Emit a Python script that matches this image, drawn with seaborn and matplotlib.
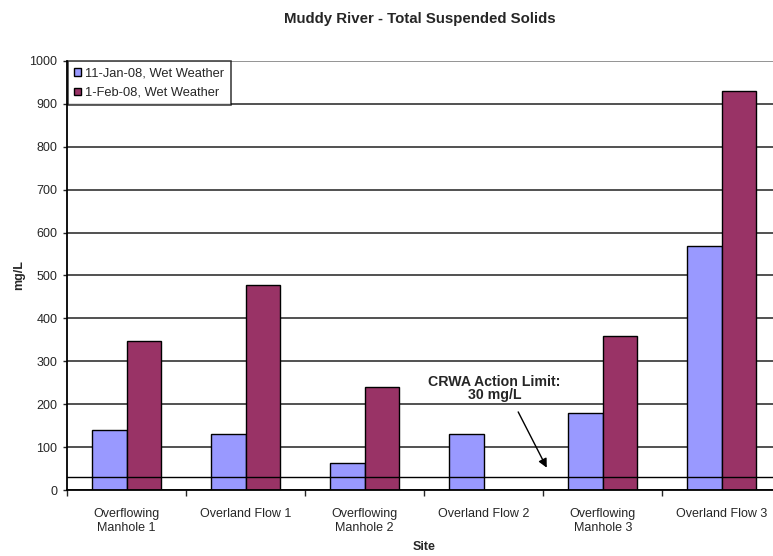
import pandas as pd
import numpy as np
import matplotlib.pyplot as plt
import seaborn as sns

sites = ["Overflowing\nManhole 1", "Overland Flow 1", "Overflowing\nManhole 2",
         "Overland Flow 2", "Overflowing\nManhole 3", "Overland Flow 3"]
jan = [140, 130, 62, 130, 180, 568]
feb = [348, 478, 240, np.nan, 360, 930]
series = ["11-Jan-08, Wet Weather", "1-Feb-08, Wet Weather"]
limit = 30

df = pd.DataFrame({
    "Site": sites * 2,
    "mg/L": jan + feb,
    "Event": [series[0]] * len(sites) + [series[1]] * len(sites),
})

sns.set_style("white")
plt.rcParams["font.family"] = ["Liberation Sans", "DejaVu Sans"]

fig = plt.figure(figsize=(7.73, 5.56), dpi=100)
# axes runs a bit past the right edge of the figure, like the original
ax = fig.add_axes([0.0867, 0.1187, 0.924, 0.7716])

# grid behind the bars
ax.set_axisbelow(True)
ax.yaxis.grid(True, color="#222222", linewidth=1.1, snap=True)

sns.barplot(data=df, x="Site", y="mg/L", hue="Event", order=sites, hue_order=series,
            palette=["#9999FF", "#993366"], width=0.58, edgecolor="black",
            linewidth=1, saturation=1, ax=ax)

ax.set_ylim(0, 1000)
ax.set_yticks(range(0, 1001, 100))
# top gridline is lighter
ax.get_ygridlines()[-1].set_color("#777777")

# action limit line over the bars
ax.axhline(limit, color="black", linewidth=1, zorder=5)

ax.set_xlim(-0.5, len(sites) - 0.5)
ax.tick_params(axis="y", labelsize=9, length=3, width=1, direction="out", left=True, pad=4)
ax.tick_params(axis="x", which="major", labelsize=9, length=0, pad=13)
ax.set_xticks(np.arange(-0.5, len(sites), 1), minor=True)
ax.tick_params(axis="x", which="minor", length=4, width=1, direction="out", bottom=True)

for s in ["top", "right"]:
    ax.spines[s].set_visible(False)
for s in ["left", "bottom"]:
    ax.spines[s].set_color("black")
    ax.spines[s].set_linewidth(1.3)

ax.set_xlabel("Site", fontsize=9, fontweight="bold", labelpad=5)
ax.set_ylabel("mg/L", fontsize=9, fontweight="bold", labelpad=3)
fig.text(420 / 773, 1 - 19 / 556, "Muddy River - Total Suspended Solids",
         ha="center", va="center", fontsize=10.8, fontweight="bold")

ax.text(3.09, 237, "CRWA Action Limit:\n30 mg/L", ha="center", va="center",
        fontsize=10.2, fontweight="bold", linespacing=0.95)
ax.annotate("", xy=(3.53, 52), xytext=(3.29, 182),
            arrowprops=dict(arrowstyle="-|>", color="black", lw=1, shrinkA=0, shrinkB=0,
                            mutation_scale=13))

leg = ax.legend(loc="upper left", bbox_to_anchor=(0.0, 1.002), fontsize=9.3, frameon=True,
                fancybox=False, edgecolor="black", handlelength=0.55, handleheight=0.55,
                handletextpad=0.3, borderpad=0.5, labelspacing=0.6, borderaxespad=0.05)
leg.get_frame().set_linewidth(1.1)

fig.savefig("out.png", dpi=100)
